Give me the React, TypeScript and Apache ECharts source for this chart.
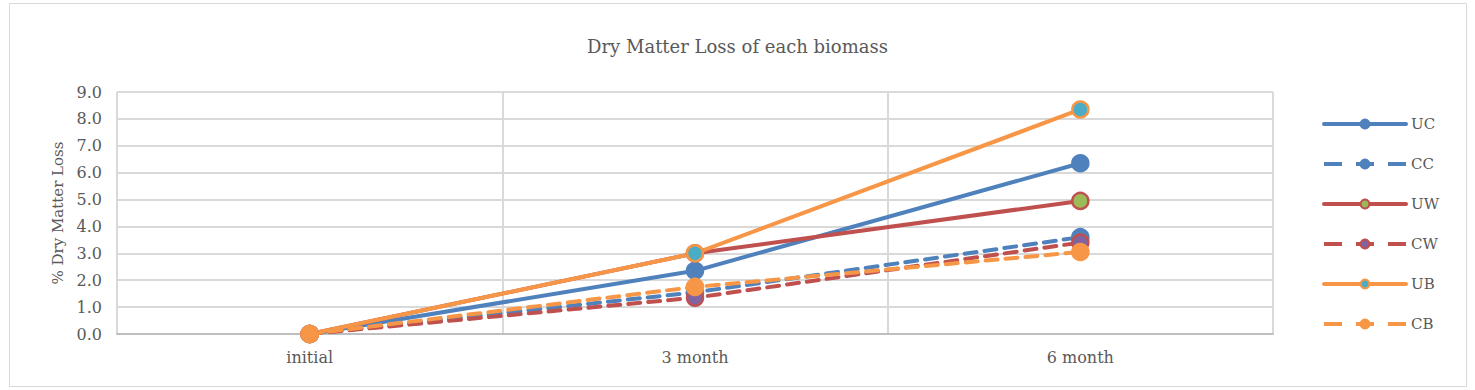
import React, { useEffect, useRef } from "react";
import * as echarts from "echarts";

const categories = ["initial", "3 month", "6 month"];
const seriesNames = ["UC", "CC", "UW", "CW", "UB", "CB"];
const UC = [0, 2.35, 6.35];
const CC = [0, 1.55, 3.6];
const UW = [0, 3.0, 4.95];
const CW = [0, 1.35, 3.4];
const UB = [0, 3.0, 8.35];
const CB = [0, 1.75, 3.05];

const BLUE = "#4F81BD";
const RED = "#C0504D";
const ORANGE = "#F79646";
const GREEN = "#9BBB59";
const PURPLE = "#8064A2";
const TEAL = "#4BACC6";
const FONT = "'DejaVu Serif', 'Liberation Serif', serif";

export default function App() {
  const ref = useRef<HTMLDivElement>(null);
  useEffect(() => {
    if (!ref.current) return;
    const chart = echarts.init(ref.current, undefined, { renderer: "svg" });
    const mk = (name: string, data: number[], line: string, fill: string, border: string, dashed: boolean) => ({
      name,
      type: "line",
      data,
      symbol: "circle",
      symbolSize: 16,
      lineStyle: { color: line, width: 4, type: dashed ? [12, 8] : "solid", cap: "round" },
      itemStyle: { color: fill, borderColor: border, borderWidth: 2.5 },
      emphasis: { disabled: true },
    });
    const dashedNames = ["CC", "CW", "CB"];
    chart.setOption({
      animation: false,
      textStyle: { fontFamily: FONT },
      title: {
        text: "Dry Matter Loss of each biomass",
        left: "center",
        top: 32,
        textStyle: { fontFamily: FONT, fontSize: 18, fontWeight: "normal", color: "#595959" },
      },
      graphic: [
        {
          type: "rect",
          shape: { x: 9.5, y: 3.5, width: 1457, height: 383 },
          style: { fill: "none", stroke: "#D9D9D9", lineWidth: 1 },
          silent: true,
        },
      ],
      legend: {
        orient: "vertical",
        left: 1322,
        top: 115,
        padding: 0,
        itemWidth: 82,
        itemHeight: 11,
        itemGap: 22,
        data: seriesNames.map((n) =>
          dashedNames.includes(n)
            ? { name: n, lineStyle: { type: [18, 14], width: 4, cap: "butt" } }
            : { name: n }
        ),
        lineStyle: { width: 4 },
        textStyle: { fontFamily: FONT, fontSize: 15, lineHeight: 18, color: "#595959", padding: [0, 0, 0, 0] },
      },
      grid: { left: 117, right: 202, top: 92, bottom: 56, containLabel: false },
      xAxis: {
        type: "category",
        data: categories,
        boundaryGap: true,
        axisLine: { show: true, lineStyle: { color: "#BFBFBF", width: 2 } },
        axisTick: { show: false },
        splitLine: { show: true, lineStyle: { color: "#D9D9D9", width: 2 } },
        axisLabel: { fontFamily: FONT, fontSize: 16, color: "#595959", margin: 15 },
      },
      yAxis: {
        type: "value",
        min: 0,
        max: 9,
        interval: 1,
        name: "% Dry Matter Loss",
        nameLocation: "middle",
        nameGap: 52,
        nameTextStyle: { fontFamily: FONT, fontSize: 15, color: "#595959" },
        axisLine: { show: false },
        axisTick: { show: false },
        splitLine: { show: true, lineStyle: { color: "#D9D9D9", width: 2 } },
        axisLabel: {
          fontFamily: FONT,
          fontSize: 16,
          color: "#595959",
          margin: 15,
          formatter: (v: number) => v.toFixed(1),
        },
      },
      series: [
        mk("UC", UC, BLUE, BLUE, BLUE, false),
        mk("CC", CC, BLUE, BLUE, BLUE, true),
        mk("UW", UW, RED, GREEN, RED, false),
        mk("CW", CW, RED, PURPLE, RED, true),
        mk("UB", UB, ORANGE, TEAL, ORANGE, false),
        mk("CB", CB, ORANGE, ORANGE, ORANGE, true),
      ],
    });
    return () => chart.dispose();
  }, []);
  return (
    <div
      ref={ref}
      style={{ position: "absolute", left: 0, top: 0, width: 1475, height: 390, background: "#fff" }}
    />
  );
}
